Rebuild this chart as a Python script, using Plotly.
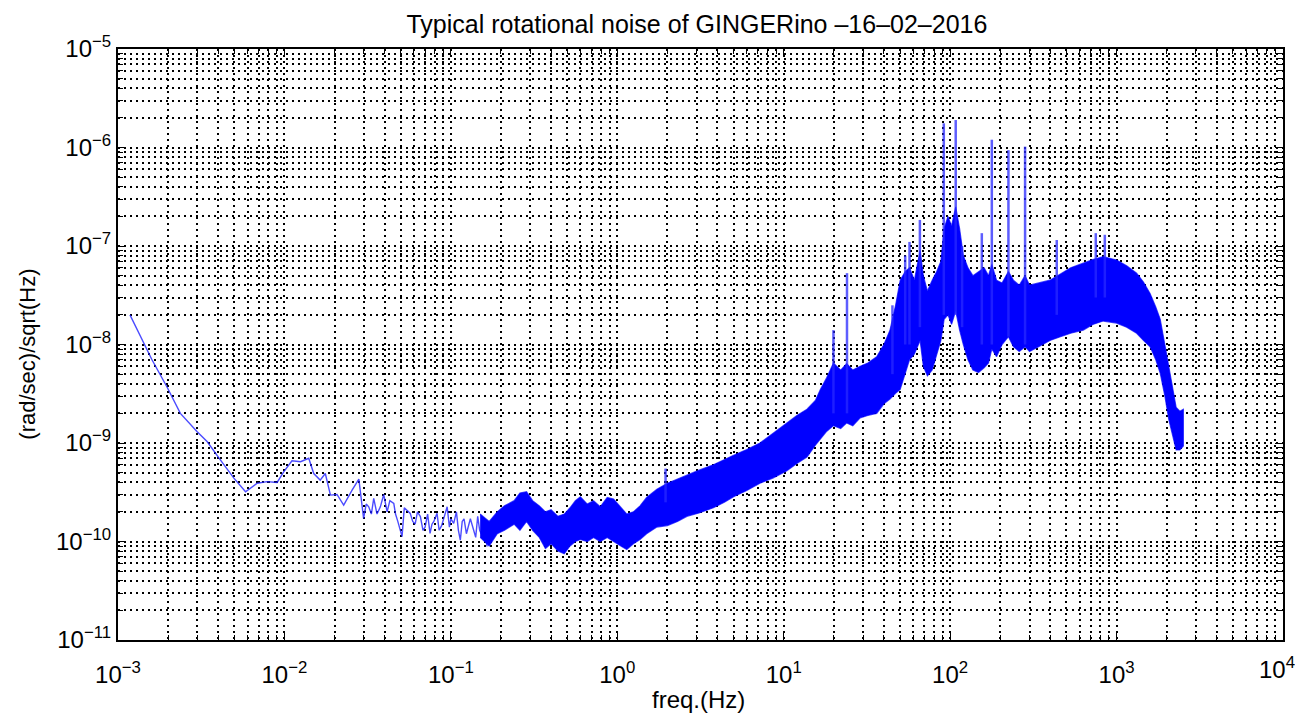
import plotly.graph_objects as go

# ---------------- data ----------------
title_text = "Typical rotational noise of GINGERino \u201316\u201302\u20132016"
x_title = "freq.(Hz)"
y_title = "(rad/sec)/sqrt(Hz)"

x_tick_vals = [1e-3, 1e-2, 1e-1, 1e0, 1e1, 1e2, 1e3, 1e4]
x_tick_text = ["10<sup>\u22123</sup>", "10<sup>\u22122</sup>", "10<sup>\u22121</sup>",
               "10<sup>0</sup>", "10<sup>1</sup>", "10<sup>2</sup>", "10<sup>3</sup>",
               "10<sup>4</sup>"]
y_tick_vals = [1e-11, 1e-10, 1e-9, 1e-8, 1e-7, 1e-6, 1e-5]
y_tick_text = ["10<sup>\u221211</sup>", "10<sup>\u221210</sup>", "10<sup>\u22129</sup>",
               "10<sup>\u22128</sup>", "10<sup>\u22127</sup>", "10<sup>\u22126</sup>",
               "10<sup>\u22125</sup>"]

# low-frequency thin trace
line_f = [1.18e-3, 1.6e-3, 1.97e-3, 2.37e-3, 2.99e-3, 3.44e-3, 4.13e-3, 4.97e-3,
          5.84e-3, 6.86e-3, 7.87e-3, 9.04e-3, 9.9e-3, 1.11e-2, 1.25e-2, 1.40e-2,
          1.50e-2, 1.64e-2, 1.76e-2, 1.89e-2, 2.07e-2, 2.27e-2, 2.55e-2, 2.80e-2,
          2.99e-2, 3.1e-2, 3.21e-2, 3.33e-2, 3.44e-2, 3.6e-2, 3.77e-2, 3.95e-2,
          4.14e-2, 4.3e-2, 4.54e-2, 4.65e-2, 4.8e-2, 5.09e-2, 5.25e-2, 5.4e-2,
          5.7e-2, 5.9e-2, 6.1e-2, 6.3e-2, 6.56e-2, 6.8e-2, 7.0e-2, 7.25e-2,
          7.5e-2, 7.7e-2, 7.9e-2, 8.26e-2, 8.5e-2, 8.8e-2, 9.1e-2, 9.5e-2,
          9.8e-2, 0.1, 0.104, 0.108, 0.111, 0.114, 0.117, 0.12, 0.124, 0.127,
          0.131, 0.137, 0.141, 0.145, 0.149, 0.152, 0.158, 0.165]
line_v = [2.0e-8, 7.0e-9, 3.7e-9, 2.0e-9, 1.3e-9, 1.03e-9, 6.7e-10, 4.4e-10,
          3.2e-10, 3.9e-10, 4.05e-10, 3.98e-10, 5.1e-10, 6.6e-10, 6.45e-10, 7.0e-10,
          4.9e-10, 4.2e-10, 4.9e-10, 2.96e-10, 3.0e-10, 2.34e-10, 3.33e-10, 4.3e-10,
          1.72e-10, 2.4e-10, 2.25e-10, 1.9e-10, 2.74e-10, 1.9e-10, 2.25e-10, 3.0e-10,
          2.0e-10, 2.6e-10, 2.44e-10, 1.9e-10, 1.6e-10, 1.12e-10, 2.2e-10, 2.1e-10,
          1.93e-10, 1.6e-10, 1.5e-10, 2.0e-10, 1.79e-10, 1.3e-10, 1.4e-10, 1.9e-10,
          1.21e-10, 1.5e-10, 1.6e-10, 1.93e-10, 1.3e-10, 1.45e-10, 1.8e-10, 2.25e-10,
          1.4e-10, 1.7e-10, 1.53e-10, 2.0e-10, 1.3e-10, 1.03e-10, 1.6e-10, 1.7e-10,
          1.2e-10, 1.4e-10, 1.7e-10, 1.31e-10, 1.1e-10, 1.8e-10, 1.3e-10, 1.2e-10,
          1.6e-10, 8.9e-11]

# dense noise band: frequency, upper envelope, lower envelope
band_f = [0.15, 0.17, 0.19, 0.21, 0.24, 0.26, 0.285, 0.31, 0.34, 0.37, 0.40,
          0.44, 0.48, 0.52, 0.56, 0.60, 0.66, 0.72, 0.79, 0.87, 0.95, 1.05,
          1.14, 1.25, 1.37, 1.5, 1.73, 2.0, 2.3, 2.62, 3.1, 3.78, 4.4, 5.0,
          6.0, 7.2, 8.6, 10.4, 12.0, 13.8, 15.5, 16.6, 18.0, 19.9, 22.0, 23.9,
          26.0, 28.8, 32.0, 36.2, 40.0, 43.5, 47.0, 50.1, 53.7, 57.0, 61.0,
          63.0, 66.0, 69.0, 73.0, 78.0, 83.0, 88.0, 92.0, 97.0, 102.0, 108.0,
          114.0, 120.0, 128.0, 137.0, 148.0, 160.0, 170.0, 178.0, 190.0, 205.0,
          224.0, 240.0, 260.0, 282.0, 300.0, 340.0, 398.0, 460.0, 530.0, 631.0,
          720.0, 832.0, 1000.0, 1150.0, 1320.0, 1450.0, 1590.0, 1720.0, 1830.0,
          1950.0, 2060.0, 2170.0, 2280.0, 2400.0, 2520.0]
band_hi = [1.9e-10, 1.6e-10, 2.0e-10, 2.3e-10, 2.6e-10, 3.1e-10, 3.2e-10, 2.6e-10,
           2.3e-10, 2.0e-10, 2.1e-10, 1.8e-10, 1.9e-10, 2.2e-10, 2.6e-10, 2.85e-10,
           2.4e-10, 2.6e-10, 2.25e-10, 2.8e-10, 2.7e-10, 2.2e-10, 1.9e-10, 2.0e-10,
           2.3e-10, 2.8e-10, 3.4e-10, 3.9e-10, 4.3e-10, 4.8e-10, 5.3e-10, 6.0e-10,
           6.8e-10, 7.5e-10, 8.6e-10, 1.0e-9, 1.25e-9, 1.6e-9, 1.9e-9, 2.2e-9,
           2.7e-9, 3.5e-9, 4.5e-9, 6.5e-9, 5.5e-9, 6.4e-9, 5.5e-9, 6.0e-9, 6.5e-9,
           7.5e-9, 1.0e-8, 1.4e-8, 2.5e-8, 4.5e-8, 5.5e-8, 6.0e-8, 4.5e-8, 6.0e-8,
           9.0e-8, 5.0e-8, 3.5e-8, 4.5e-8, 5.5e-8, 7.0e-8, 1.5e-7, 2.0e-7, 1.6e-7,
           2.5e-7, 1.5e-7, 8.0e-8, 6.0e-8, 5.0e-8, 5.5e-8, 6.0e-8, 5.0e-8, 6.5e-8,
           4.5e-8, 4.2e-8, 5.5e-8, 4.5e-8, 4.0e-8, 5.0e-8, 4.0e-8, 4.2e-8, 4.5e-8,
           5.2e-8, 6.0e-8, 6.7e-8, 7.3e-8, 7.8e-8, 7.2e-8, 6.3e-8, 5.3e-8, 4.3e-8,
           3.3e-8, 2.4e-8, 1.8e-8, 1.0e-8, 5.9e-9, 3.5e-9, 2.3e-9, 2.1e-9, 2.2e-9]
band_lo = [1.1e-10, 9.0e-11, 1.2e-10, 1.3e-10, 1.5e-10, 1.3e-10, 1.6e-10, 1.3e-10,
           1.1e-10, 8.5e-11, 9.5e-11, 8.0e-11, 7.5e-11, 9.0e-11, 1.0e-10, 1.05e-10,
           1.0e-10, 1.1e-10, 1.0e-10, 1.1e-10, 1.0e-10, 9.0e-11, 8.3e-11, 9.5e-11,
           1.05e-10, 1.2e-10, 1.4e-10, 1.45e-10, 1.6e-10, 1.8e-10, 1.95e-10, 2.2e-10,
           2.5e-10, 2.85e-10, 3.3e-10, 3.9e-10, 4.4e-10, 5.2e-10, 6.2e-10, 7.2e-10,
           9.5e-10, 1.1e-9, 1.3e-9, 1.5e-9, 1.4e-9, 1.6e-9, 1.5e-9, 1.8e-9, 1.9e-9,
           2.0e-9, 2.5e-9, 2.8e-9, 3.2e-9, 3.5e-9, 5.0e-9, 7.0e-9, 8.0e-9, 9.0e-9,
           1.1e-8, 6.0e-9, 4.8e-9, 5.5e-9, 8.0e-9, 1.1e-8, 1.8e-8, 2.0e-8, 1.6e-8,
           2.2e-8, 1.4e-8, 1.0e-8, 7.0e-9, 5.5e-9, 5.2e-9, 5.8e-9, 6.5e-9, 9.0e-9,
           7.5e-9, 1.0e-8, 1.2e-8, 9.5e-9, 8.5e-9, 9.5e-9, 8.5e-9, 9.5e-9, 1.1e-8,
           1.2e-8, 1.3e-8, 1.4e-8, 1.6e-8, 1.73e-8, 1.65e-8, 1.5e-8, 1.3e-8, 1.1e-8,
           9.5e-9, 7.0e-9, 5.1e-9, 3.0e-9, 1.73e-9, 1.2e-9, 8.5e-10, 8.5e-10, 9.3e-10]

# narrow spectral lines: frequency, foot, top
spike_f = [1.95, 19.9, 24.0, 45.0, 53.7, 57.0, 65.8, 91.6, 108.0, 118.0, 155.0,
           178.0, 224.0, 282.0, 437.0, 750.0, 850.0]
spike_base = [2.5e-10, 2.0e-9, 2.0e-9, 5.0e-9, 1.0e-8, 1.0e-8, 1.5e-8, 2.0e-8, 2.0e-8,
              1.5e-8, 1.0e-8, 1.0e-8, 1.2e-8, 1.0e-8, 2.0e-8, 3.0e-8, 3.0e-8]
spike_top = [5.5e-10, 1.4e-8, 5.3e-8, 2.5e-8, 8.0e-8, 1.1e-7, 1.84e-7, 1.76e-6, 1.9e-6,
             1.0e-7, 1.35e-7, 1.2e-6, 9.4e-7, 1.02e-6, 1.15e-7, 1.35e-7, 1.3e-7]

# ---------------- figure ----------------
FONT = "Liberation Sans, Arial, Helvetica, sans-serif"
fig = go.Figure()

blue = "rgb(0,0,255)"

fig.add_trace(go.Scatter(
    x=line_f, y=line_v, mode="lines",
    line=dict(color="rgba(30,30,255,0.8)", width=1.4),
    showlegend=False, hoverinfo="skip"))

fig.add_trace(go.Scatter(
    x=band_f + band_f[::-1], y=band_hi + band_lo[::-1],
    mode="lines", fill="toself", fillcolor=blue,
    line=dict(color="rgba(0,0,255,0.7)", width=1.2),
    showlegend=False, hoverinfo="skip"))

sx, sy = [], []
for f, b, t in zip(spike_f, spike_base, spike_top):
    sx += [f, f, None]
    sy += [b, t, None]
fig.add_trace(go.Scatter(
    x=sx, y=sy, mode="lines",
    line=dict(color="rgba(40,40,255,0.75)", width=2.5),
    showlegend=False, hoverinfo="skip"))

grid_dash = "2px,4px"


def minor_vals(lo, hi):
    return [m * 10.0 ** e for e in range(lo, hi) for m in range(2, 10)]


def axis_style(tv, tt, mv):
    return dict(
        type="log", tickmode="array", tickvals=tv, ticktext=tt,
        showline=True, linecolor="black", linewidth=2, mirror="ticks",
        ticks="inside", ticklen=8, tickcolor="black", tickwidth=1.2,
        showgrid=True, gridcolor="black", gridwidth=2, griddash=grid_dash,
        minor=dict(tickmode="array", tickvals=mv, ticks="inside", ticklen=5,
                   tickcolor="black", tickwidth=1.2,
                   showgrid=True, gridcolor="black", gridwidth=2, griddash=grid_dash),
        zeroline=False, automargin=False,
        tickfont=dict(family=FONT, size=24, color="black"),
    )


# last x label is drawn as an annotation, nudged left so it stays inside the page
x_axis_text = x_tick_text[:-1] + [""]

fig.update_xaxes(range=[-3, 4], ticklabelstandoff=12,
                 **axis_style(x_tick_vals, x_axis_text, minor_vals(-3, 4)))
fig.update_yaxes(range=[-11, -5],
                 **axis_style(y_tick_vals, y_tick_text, minor_vals(-11, -5)))

# page body adds an 8px offset; figure sized to fit the window
fig.update_layout(
    width=1295, height=707,
    margin=dict(l=110, r=20, t=41, b=75, autoexpand=False),
    paper_bgcolor="white", plot_bgcolor="white",
    title=dict(text=title_text, x=0.532, xanchor="center", y=0.977, yanchor="middle",
               font=dict(family=FONT, size=25, color="black")),
    showlegend=False,
    annotations=[
        dict(text=x_title, xref="paper", yref="paper", x=0.498, y=-0.101,
             xanchor="center", yanchor="middle", showarrow=False,
             font=dict(family=FONT, size=24, color="black")),
        dict(text=y_title, xref="paper", yref="paper", x=-0.0775, y=0.484,
             xanchor="center", yanchor="middle", showarrow=False, textangle=-90,
             font=dict(family=FONT, size=22, color="black")),
        dict(text=x_tick_text[-1], xref="paper", yref="paper", x=0.9945, y=-0.047,
             xanchor="center", yanchor="middle", showarrow=False,
             font=dict(family=FONT, size=24, color="black")),
    ],
)

fig.write_html("out.html")
